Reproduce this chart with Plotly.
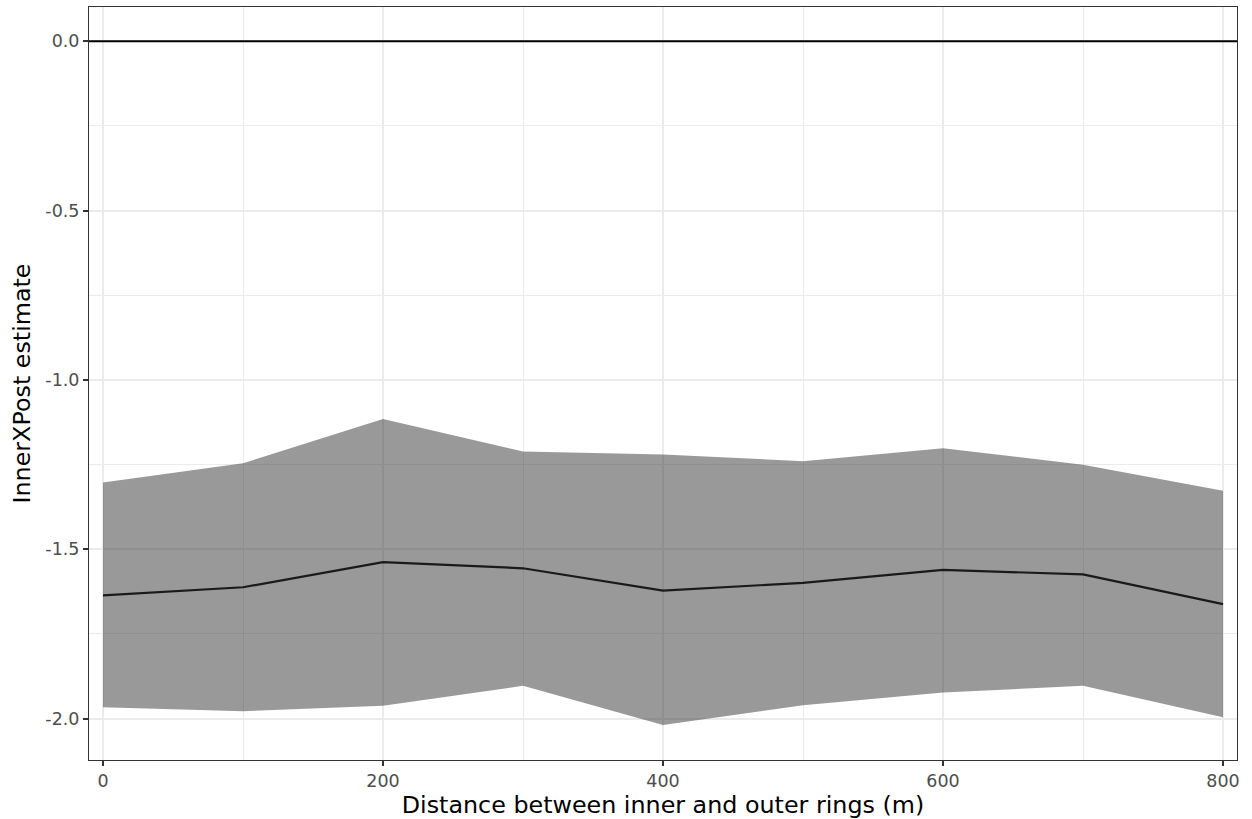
import plotly.graph_objects as go

# Distance between inner and outer rings (m)
distance = [0, 100, 200, 300, 400, 500, 600, 700, 800]
# InnerXPost point estimate and interval bounds
estimate = [-1.636, -1.612, -1.538, -1.556, -1.622, -1.599, -1.561, -1.574, -1.662]
upper = [-1.303, -1.246, -1.115, -1.211, -1.220, -1.240, -1.202, -1.250, -1.327]
lower = [-1.966, -1.978, -1.962, -1.903, -2.019, -1.960, -1.923, -1.903, -1.996]

x_ticks = [0, 200, 400, 600, 800]
x_tick_labels = ["0", "200", "400", "600", "800"]
y_ticks = [0.0, -0.5, -1.0, -1.5, -2.0]
y_tick_labels = ["0.0", "-0.5", "-1.0", "-1.5", "-2.0"]
reference_level = 0.0

fig = go.Figure()

# Interval ribbon: lower bound then upper bound filled to it
fig.add_trace(go.Scatter(
    x=distance, y=lower, mode="lines", line=dict(width=0),
    hoverinfo="skip", showlegend=False,
))
fig.add_trace(go.Scatter(
    x=distance, y=upper, mode="lines", line=dict(width=0),
    fill="tonexty", fillcolor="rgba(51,51,51,0.5)",
    hoverinfo="skip", showlegend=False,
))
# Estimate line
fig.add_trace(go.Scatter(
    x=distance, y=estimate, mode="lines",
    line=dict(color="#1a1a1a", width=2.2), showlegend=False,
))

# Reference line at zero
fig.add_hline(y=reference_level, line=dict(color="black", width=2))

grid = "#EBEBEB"
tick_font = dict(family="DejaVu Sans", size=17.5, color="#4D4D4D")
title_font = dict(family="DejaVu Sans", size=23.8, color="black")

fig.update_layout(
    width=1252, height=819,
    margin=dict(l=89, r=15, t=7, b=59),
    paper_bgcolor="white", plot_bgcolor="white",
    xaxis=dict(
        range=[-10, 810],
        tickmode="array", tickvals=x_ticks, ticktext=x_tick_labels,
        showgrid=True, gridcolor=grid, gridwidth=2,
        minor=dict(tickmode="array", tickvals=[100, 300, 500, 700],
                   showgrid=True, gridcolor=grid, gridwidth=1),
        zeroline=False,
        showline=True, linecolor="#333333", linewidth=1, mirror=True,
        ticks="outside", ticklen=5, tickwidth=1.5, tickcolor="#333333",
        tickfont=tick_font,
        title=dict(text="Distance between inner and outer rings (m)",
                   font=title_font, standoff=2),
    ),
    yaxis=dict(
        range=[-2.122, 0.101],
        tickmode="array", tickvals=y_ticks, ticktext=y_tick_labels,
        showgrid=True, gridcolor=grid, gridwidth=2,
        minor=dict(tickmode="array", tickvals=[-0.25, -0.75, -1.25, -1.75],
                   showgrid=True, gridcolor=grid, gridwidth=1),
        zeroline=False,
        showline=True, linecolor="#333333", linewidth=1, mirror=True,
        ticks="outside", ticklen=5, tickwidth=1.5, tickcolor="#333333",
        tickfont=tick_font,
        title=dict(text="InnerXPost estimate", font=title_font, standoff=8),
    ),
)

fig.write_html("out.html")
